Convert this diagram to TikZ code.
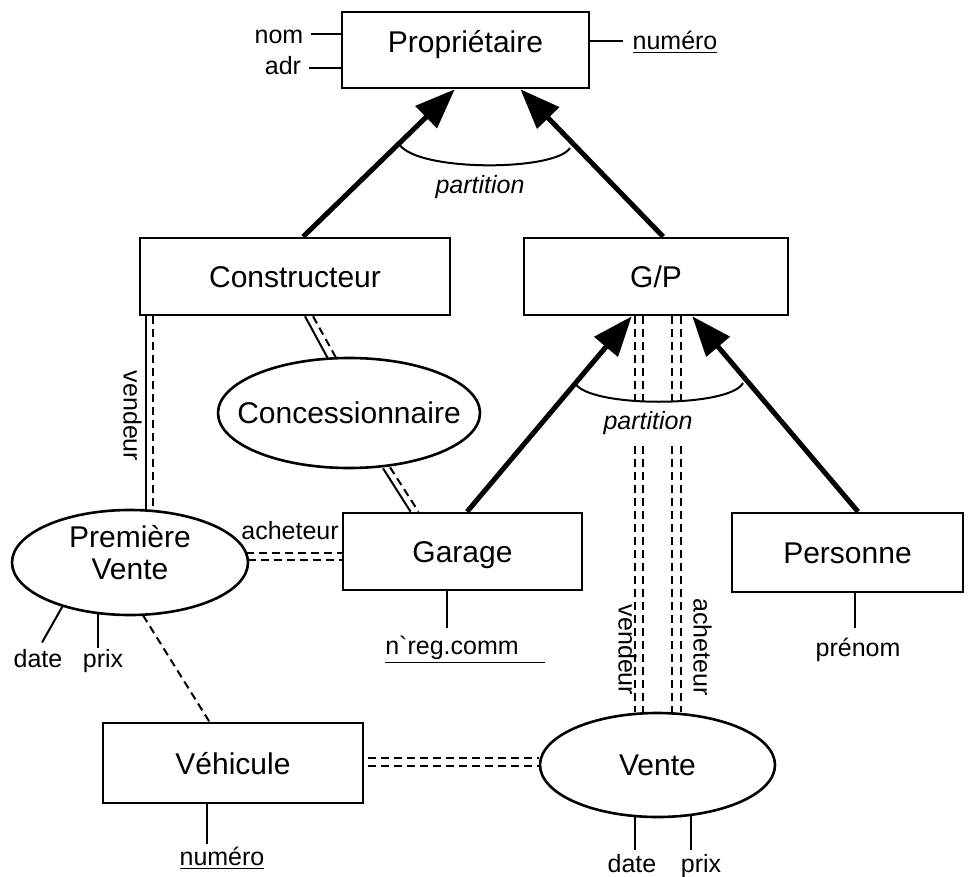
\documentclass[tikz,border=0pt]{standalone}
\usepackage{fontspec}
\setmainfont{Liberation Sans}
\usetikzlibrary{arrows.meta,shapes.geometric,calc}
\begin{document}
\begin{tikzpicture}[x=0.5pt,y=-0.5pt,
  ent/.style={draw,line width=1.3pt,rectangle,inner sep=0pt,text height=11pt,text depth=0pt,font=\fontsize{15}{17}\selectfont},
  rel/.style={draw,line width=1.3pt,ellipse,inner sep=0pt,font=\fontsize{15}{17}\selectfont},
  bigt/.style={inner sep=0pt,font=\fontsize{15}{16}\selectfont,align=center},
  lab/.style={font=\fontsize{12.5}{14}\selectfont,inner sep=1.5pt,text height=9pt,text depth=2.5pt},
  itlab/.style={lab,font=\fontsize{12.5}{14}\selectfont\itshape},
  isa/.style={line width=2.5pt,-{Triangle[length=20pt,width=15pt]}},
  ln/.style={line width=1pt},
  dsh/.style={line width=1pt,dash pattern=on 4pt off 2.5pt}
]
\useasboundingbox (0,0) rectangle (968,877);

% entities
\node[ent,minimum width=123.5pt,minimum height=38pt,text height=7pt,text depth=4pt] (prop) at (465.5,50) {Propriétaire};
\node[ent,minimum width=155pt,minimum height=38.5pt] (cons) at (295,276.5) {Constructeur};
\node[ent,minimum width=132pt,minimum height=38.5pt] (gp) at (656,276.5) {G/P};
\node[ent,minimum width=119.5pt,minimum height=38.5pt] (gar) at (462.5,551.5) {Garage};
\node[ent,minimum width=115.5pt,minimum height=39.5pt] (pers) at (847.5,552.5) {Personne};
\node[ent,minimum width=130pt,minimum height=40pt] (veh) at (233,763) {Véhicule};

% relationships
\node[rel,minimum width=131pt,minimum height=55pt] (conc) at (349,413) {\makebox[0pt]{Concessionnaire}};
\node[rel,minimum width=118pt,minimum height=52.5pt] (pv) at (130,562.5) {};
\node[bigt] (pvt) at (130,553) {Première\\Vente};
\node[rel,minimum width=117.5pt,minimum height=52pt] (vente) at (657.5,765) {\makebox[0pt]{Vente}};

% attributes of Propriétaire
\node[lab] (nom) at (279,37) {nom};
\node[lab] (adr) at (283,68) {adr};
\node[lab] (nump) at (675,43) {\underline{numéro}};
\coordinate (n1) at ([xshift=2pt,yshift=1.5pt]nom.east);
\draw[ln] (n1) -- (n1 -| prop.west);
\coordinate (n2) at ([xshift=2.5pt]adr.east);
\draw[ln] (n2) -- (n2 -| prop.west);
\coordinate (n3) at ([xshift=-3pt,yshift=1pt]nump.west);
\draw[ln] (n3 -| prop.east) -- (n3);

% ISA arrows
\draw[isa] ($(cons.north west)!0.526!(cons.north east)$) -- ($(prop.south west)!0.457!(prop.south east)$);
\draw[isa] ($(gp.north west)!0.527!(gp.north east)$) -- ($(prop.south west)!0.72!(prop.south east)$);
\draw[isa] ($(gar.north west)!0.519!(gar.north east)$) -- ($(gp.south west)!0.409!(gp.south east)$);
\draw[isa] ($(pers.north west)!0.545!(pers.north east)$) -- ($(gp.south west)!0.636!(gp.south east)$);

% partition arcs
\draw[ln] (398,142) .. controls (410,172) and (555,172) .. (570,148);
\draw[ln] (575,383) .. controls (588,408) and (730,408) .. (743,383);

% vendeur / acheteur between G/P and Vente
\foreach \f [count=\i] in {0.4205,0.4508,0.5606,0.5947}{
  \coordinate (g\i) at ($(gp.south west)!\f!(gp.south east)$);
  \draw[dsh] (g\i) -- (g\i |- vente.north);
}
\node[itlab,fill=white,inner ysep=3pt] (part2) at (648,423) {partition};
\node[itlab] (part1) at (480,187) {partition};
\node[lab,rotate=-90] (vend2) at (625,650) {vendeur};
\node[lab,rotate=-90] (ach2) at (700,647) {acheteur};

% Constructeur - Concessionnaire
\coordinate (c1) at ($(cons.south west)!0.532!(cons.south east)$);
\draw[ln] (c1) -- ($(conc.north)+(-21,2)$);
\draw[dsh] ($(c1)+(8,0)$) -- ($(conc.north)+(-13,1)$);

% Concessionnaire - Garage
\draw[ln] ($(conc.south)+(34,-1)$) -- ($(gar.north west)!0.285!(gar.north east)$);
\draw[dsh] ($(conc.south)+(41,-2)$) -- ($(gar.north west)!0.318!(gar.north east)$);

% vendeur Constructeur - Premiere Vente
\coordinate (v1) at ($(cons.south west)+(7,0)$);
\coordinate (v2) at ($(cons.south west)+(14,0)$);
\draw[ln] (v1) -- (v1 |- pv.north);
\draw[dsh] (v2) -- (v2 |- pv.north);
\node[lab,rotate=-90] (vend1) at (130,416) {vendeur};

% acheteur Premiere Vente - Garage
\coordinate (a1) at ($(pv.east)+(-3,-10)$);
\coordinate (a2) at ($(pv.east)+(-1,-3)$);
\draw[dsh] (a1) -- (a1 -| gar.west);
\draw[dsh] (a2) -- (a2 -| gar.west);
\node[lab] (ach1) at (290,533) {acheteur};

% Premiere Vente - Vehicule
\draw[dsh] ($(pv.south)+(13,-1)$) -- ($(veh.north west)!0.41!(veh.north east)$);

% Vehicule - Vente
\coordinate (w1) at ($(veh.east)+(4,-5)$);
\coordinate (w2) at ($(veh.east)+(4,3)$);
\draw[dsh] (w1) -- (w1 -| vente.west);
\draw[dsh] (w2) -- (w2 -| vente.west);

% attributes
\draw[ln] ($(pv.center)+(-67,43)$) -- ++(-21,37);
\draw[ln] ($(pv.center)+(-32,50)$) -- ++(0,35);
\node[lab] (pvdate) at (38,661) {date};
\node[lab] (pvprix) at (103,661) {prix};

\draw[ln] ($(vente.south)+(-22.5,-1)$) -- ++(0,33);
\draw[ln] ($(vente.south)+(33.5,-2)$) -- ++(0,34);
\node[lab] (vdate) at (632,866) {date};
\node[lab] (vprix) at (701,866) {prix};

\draw[ln] ($(veh.south west)+(105,0)$) -- ++(0,40);
\node[lab] (numv) at (222,859) {\underline{numéro}};

\draw[ln] ($(gar.south west)+(105,0)$) -- ++(0,37);
\node[lab] (nreg) at (465,648) {\underline{n\textasciigrave reg.comm\hspace*{13pt}}};

\draw[ln] ($(pers.south west)+(124,0)$) -- ++(0,35);
\node[lab] (pren) at (858,650) {prénom};
\end{tikzpicture}
\end{document}
